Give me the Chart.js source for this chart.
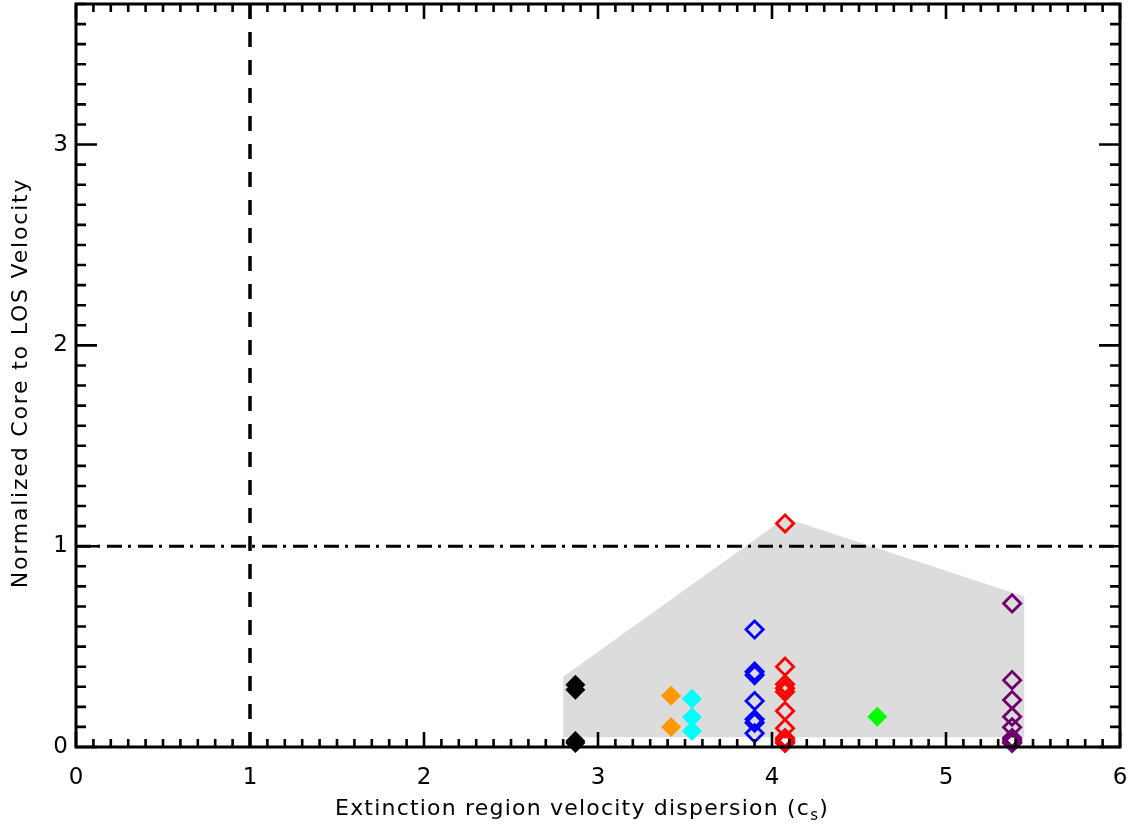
<!DOCTYPE html>
<html>
<head>
<meta charset="utf-8">
<script src="https://cdn.jsdelivr.net/npm/chart.js@4.4.0/dist/chart.umd.min.js"></script>
<style>
  html, body { margin: 0; padding: 0; background: #fff; }
  #wrap { width: 1134px; height: 830px; }
</style>
</head>
<body>
<div id="wrap"><canvas id="chart" width="1134" height="830"></canvas></div>
<script>
// axis ranges / tick labels
const xTicks = [0, 1, 2, 3, 4, 5, 6];
const yTicks = [0, 1, 2, 3];
const xRange = [0, 6];
const yRange = [0, 3.7];

// x position of each group (velocity dispersion, c_s)
const xBlack = 2.87;
const xOrange = 3.42;
const xCyan = 3.54;
const xBlue = 3.90;
const xRed = 4.075;
const xGreen = 4.605;
const xPurple = 5.38;

// normalized core-to-LOS velocity for each group
const yBlack = [0.31, 0.285, 0.03, 0.02];
const yOrange = [0.255, 0.10];
const yCyan = [0.24, 0.148, 0.08];
const yBlue = [0.585, 0.375, 0.358, 0.229, 0.138, 0.121, 0.068];
const yRed = [1.113, 0.40, 0.312, 0.292, 0.275, 0.179, 0.093, 0.045, 0.035, 0.025, 0.02];
const yGreen = [0.151];
const yPurple = [0.715, 0.333, 0.234, 0.151, 0.098, 0.045, 0.035, 0.025, 0.02];

// shaded envelope
const envX = [2.80, 2.80, 4.075, 5.45, 5.45];
const envY = [0.048, 0.35, 1.14, 0.75, 0.048];

const toPts = (x, ys) => ys.map(y => ({x: x, y: y}));

function filledSet(x, ys, color) {
    return {
        data: toPts(x, ys),
        pointStyle: 'rectRot',
        pointRadius: 10,
        pointBackgroundColor: color,
        pointBorderColor: color,
        pointBorderWidth: 0,
        clip: false
    };
}

function openSet(x, ys, color) {
    return {
        data: toPts(x, ys),
        pointStyle: 'rectRot',
        pointRadius: 8.6,
        pointBackgroundColor: 'rgba(0,0,0,0)',
        pointBorderColor: color,
        pointBorderWidth: 2.8,
        clip: false
    };
}

function noPad(s) {
    s.paddingTop = 0;
    s.paddingBottom = 0;
    s.paddingLeft = 0;
    s.paddingRight = 0;
}

const frame = {
    id: 'frame',
    afterDatasetsDraw(chart) {
        const {ctx, chartArea: a, scales: {x, y}} = chart;
        ctx.save();
        ctx.strokeStyle = '#000';
        ctx.lineWidth = 2.6;
        ctx.beginPath();
        for (let i = 0; i <= 60; i++) {
            const px = x.getPixelForValue(i / 10);
            const len = i % 10 === 0 ? 15 : 8;
            ctx.moveTo(px, a.bottom);
            ctx.lineTo(px, a.bottom - len);
            ctx.moveTo(px, a.top);
            ctx.lineTo(px, a.top + len);
        }
        for (let i = 0; i <= 37; i++) {
            const py = y.getPixelForValue(i / 10);
            const len = i % 10 === 0 ? 21 : 10;
            ctx.moveTo(a.left, py);
            ctx.lineTo(a.left + len, py);
            ctx.moveTo(a.right, py);
            ctx.lineTo(a.right - len, py);
        }
        ctx.stroke();
        ctx.lineWidth = 3;
        ctx.strokeRect(a.left, a.top, a.right - a.left, a.bottom - a.top);

        // axis titles
        ctx.fillStyle = '#000';
        ctx.textBaseline = 'alphabetic';
        ctx.textAlign = 'left';
        const big = '22px "DejaVu Sans"';
        const small = '15px "DejaVu Sans"';
        const main = 'Extinction region velocity dispersion (c';
        ctx.letterSpacing = '1.2px';
        ctx.font = big;
        const w1 = ctx.measureText(main).width;
        const w3 = ctx.measureText(')').width;
        ctx.font = small;
        const w2 = ctx.measureText('s').width;
        let tx = 582 - (w1 + w2 + w3) / 2;
        ctx.font = big;
        ctx.fillText(main, tx, 815);
        ctx.font = small;
        ctx.fillText('s', tx + w1, 820);
        ctx.font = big;
        ctx.fillText(')', tx + w1 + w2, 815);

        ctx.letterSpacing = '1.8px';
        ctx.translate(21, 383);
        ctx.rotate(-Math.PI / 2);
        ctx.textAlign = 'center';
        ctx.textBaseline = 'middle';
        ctx.fillText('Normalized Core to LOS Velocity', 0, 0);
        ctx.restore();
    }
};

const tickFont = {family: 'DejaVu Sans', size: 23};

new Chart(document.getElementById('chart').getContext('2d'), {
    type: 'scatter',
    data: {
        datasets: [
            filledSet(xBlack, yBlack, '#000000'),
            filledSet(xOrange, yOrange, '#ff9900'),
            filledSet(xCyan, yCyan, '#00ffff'),
            openSet(xBlue, yBlue, '#0000ff'),
            openSet(xRed, yRed, '#ff0000'),
            filledSet(xGreen, yGreen, '#00ff00'),
            openSet(xPurple, yPurple, '#6e006e'),
            {
                data: [{x: 1, y: yRange[0]}, {x: 1, y: yRange[1]}],
                showLine: true,
                borderColor: '#000',
                borderWidth: 3.5,
                borderDash: [15, 13],
                pointRadius: 0
            },
            {
                data: [{x: xRange[0], y: 1}, {x: xRange[1], y: 1}],
                showLine: true,
                borderColor: '#000',
                borderWidth: 3,
                borderDash: [15, 6, 3, 7],
                pointRadius: 0
            },
            {
                data: envX.map((v, i) => ({x: v, y: envY[i]})),
                showLine: true,
                fill: 'shape',
                backgroundColor: '#dcdcdc',
                borderColor: '#dcdcdc',
                borderWidth: 0,
                pointRadius: 0
            }
        ]
    },
    options: {
        responsive: false,
        animation: false,
        devicePixelRatio: 1,
        layout: {
            autoPadding: false,
            padding: {top: 4, right: 14, left: 0, bottom: 0}
        },
        plugins: {
            legend: {display: false},
            tooltip: {enabled: false}
        },
        scales: {
            x: {
                type: 'linear',
                min: xRange[0],
                max: xRange[1],
                grid: {display: false, drawTicks: false},
                border: {display: false},
                afterBuildTicks: s => { s.ticks = xTicks.map(v => ({value: v})); },
                afterFit: s => { s.height = 83; noPad(s); },
                ticks: {
                    color: '#000',
                    font: tickFont,
                    padding: 17,
                    maxRotation: 0
                }
            },
            y: {
                type: 'linear',
                min: yRange[0],
                max: yRange[1],
                grid: {display: false, drawTicks: false},
                border: {display: false},
                afterBuildTicks: s => { s.ticks = yTicks.map(v => ({value: v})); },
                afterFit: s => { s.width = 76; noPad(s); },
                ticks: {
                    color: '#000',
                    font: tickFont,
                    padding: 8
                }
            }
        }
    },
    plugins: [frame]
});
</script>
</body>
</html>
